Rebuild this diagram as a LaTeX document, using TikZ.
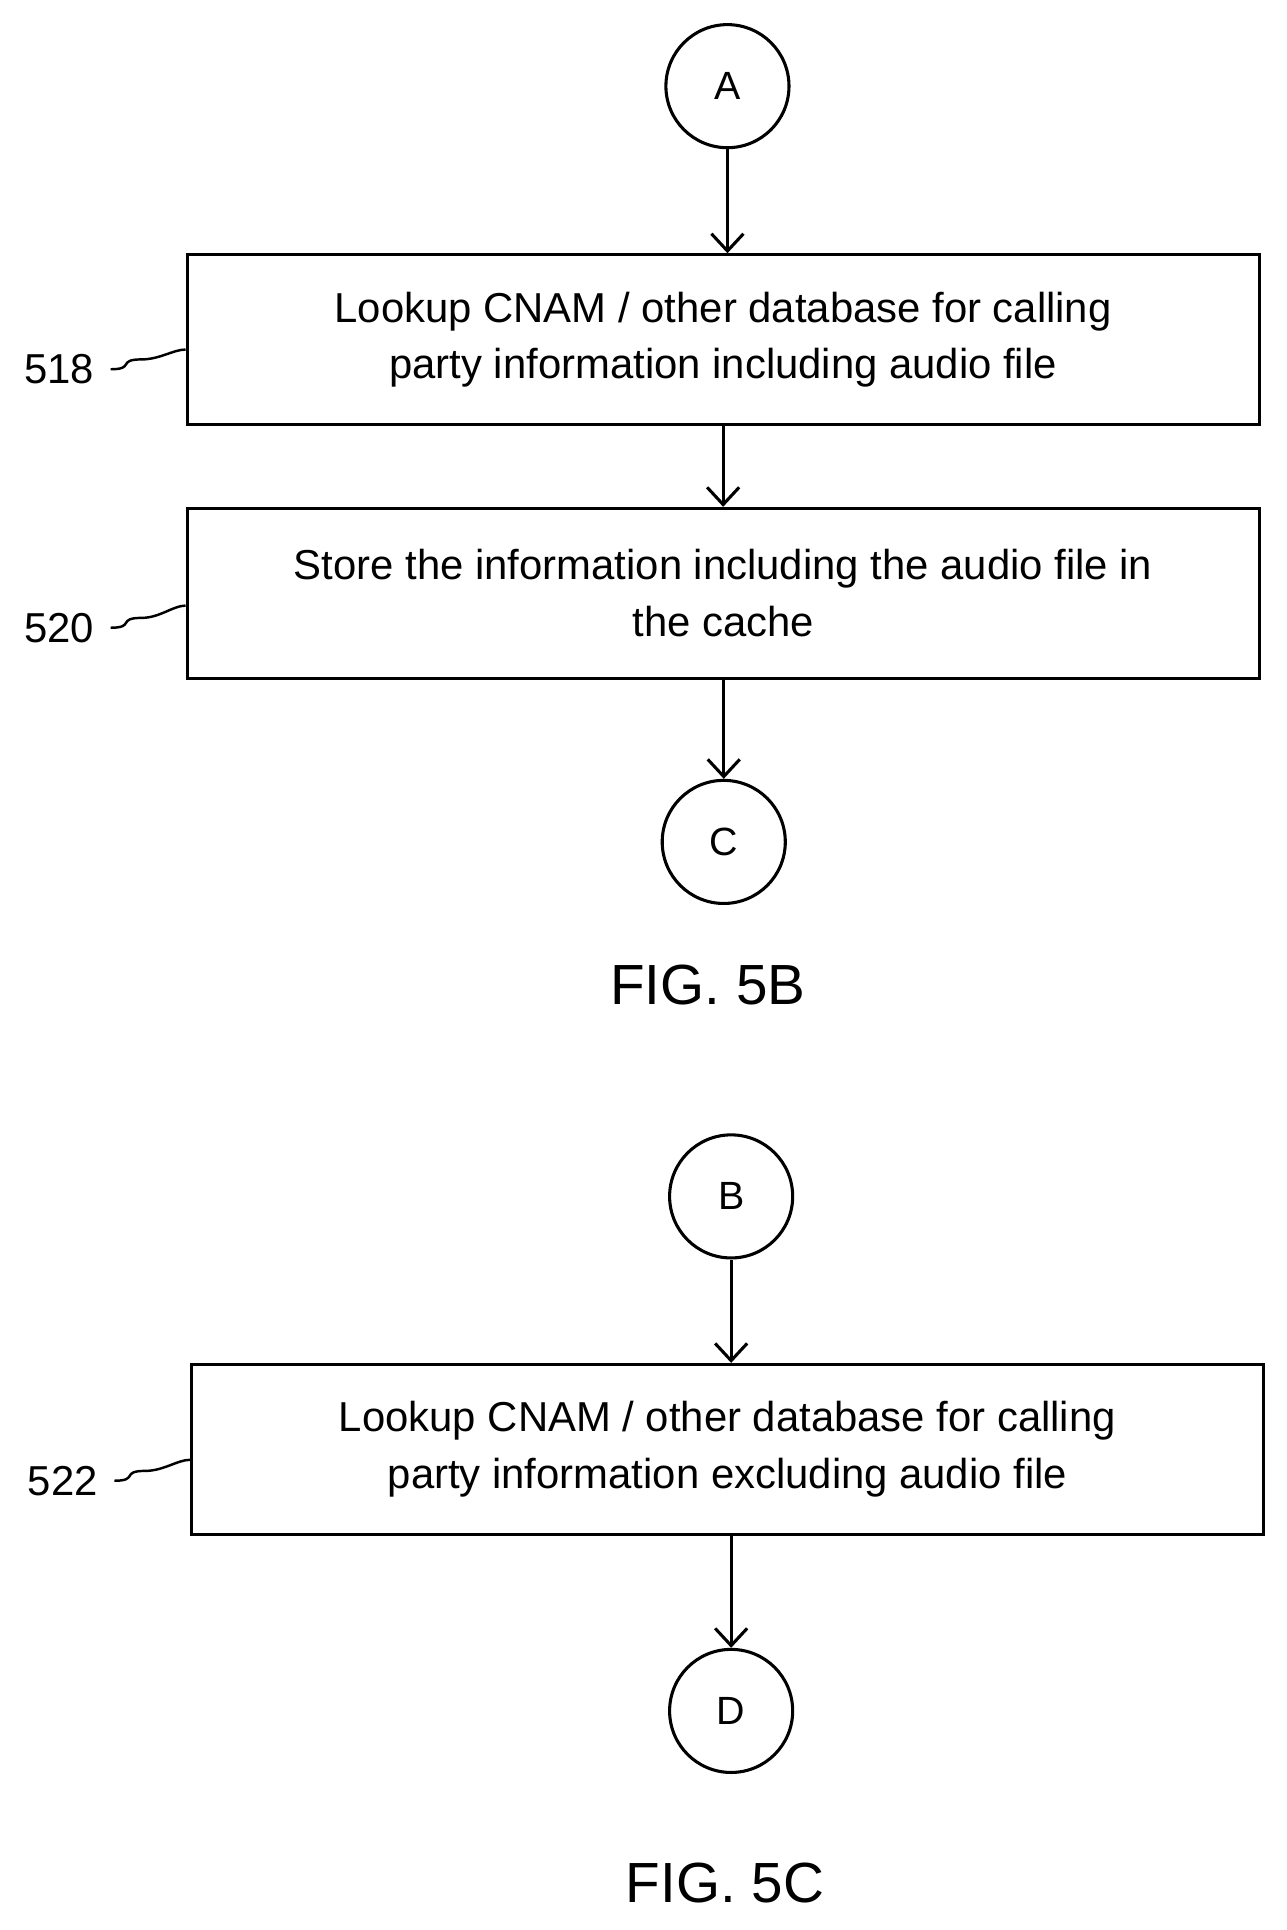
\documentclass[tikz,border=0pt]{standalone}
\usepackage{fontspec}
\setmainfont{Liberation Sans}
\usetikzlibrary{arrows.meta}
\begin{document}
\begin{tikzpicture}[x=1pt,y=-1pt,
  box/.style={draw,line width=2.5pt,minimum width=871pt,minimum height=138pt,align=center,font=\fontsize{34}{46}\selectfont,inner sep=0pt},
  conn/.style={draw,circle,line width=2.5pt,minimum size=100pt,font=\fontsize{32}{38}\selectfont,inner sep=0pt},
  arr/.style={line width=2.5pt,-{Straight Barb[length=14pt,width=26pt,line width=2.5pt]}},
  lab/.style={font=\fontsize{34}{40}\selectfont},
  sq/.style={line width=2pt},
  fig/.style={font=\fontsize{46}{50}\selectfont}]
\useasboundingbox (0,0) rectangle (1045,1568);
\node[conn] (A) at (591,70) {A};
\node[box] (b518) at (587.5,276) {Lookup CNAM / other database for calling\\party information including audio file};
\node[box] (b520) at (587.5,482) {Store the information including the audio file in\\the cache};
\node[conn] (C) at (588,684) {C};
\node[fig] (f5b) at (575,800) {FIG. 5B};
\node[conn] (B) at (594,972) {B};
\node[box] (b522) at (591,1177.5) {Lookup CNAM / other database for calling\\party information excluding audio file};
\node[conn] (D) at (594,1390) {D};
\node[fig] (f5c) at (589,1530) {FIG. 5C};
\node[lab] (l518) at (48,300) {518};
\node[lab] (l520) at (48,510) {520};
\node[lab] (l522) at (51,1203) {522};
\draw[sq] (l518.east) ++(10,0) .. controls +(20,0) and +(-20,0) .. ++(25,-8) .. controls +(15,0) and +(-10,0) .. (b518.west|-0,284);
\draw[sq] (l520.east) ++(10,0) .. controls +(20,0) and +(-20,0) .. ++(25,-8) .. controls +(15,0) and +(-10,0) .. (b520.west|-0,492);
\draw[sq] (l522.east) ++(10,0) .. controls +(20,0) and +(-20,0) .. ++(25,-8) .. controls +(15,0) and +(-10,0) .. (b522.west|-0,1186);
\draw[arr] (A) -- (A|-b518.north);
\draw[arr] (b518) -- (b520);
\draw[arr] (b520.south-|C) -- (C);
\draw[arr] (B) -- (B|-b522.north);
\draw[arr] (b522.south-|D) -- (D);
\end{tikzpicture}
\end{document}
